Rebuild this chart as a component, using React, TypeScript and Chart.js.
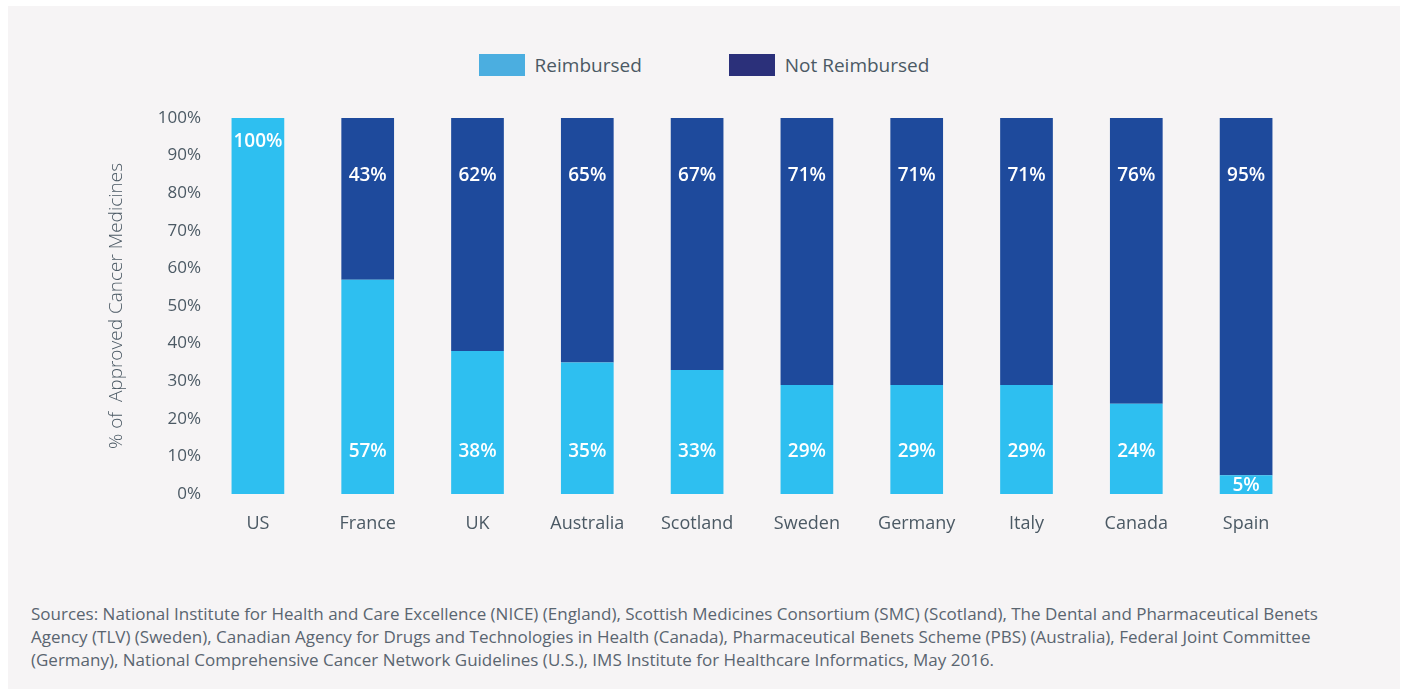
import React, { useEffect, useRef } from "react";
import { Chart, registerables } from "chart.js";

Chart.register(...registerables);

const countries = ["US", "France", "UK", "Australia", "Scotland", "Sweden", "Germany", "Italy", "Canada", "Spain"];
const reimbursed = [100, 57, 38, 35, 33, 29, 29, 29, 24, 5];
const notReimbursed = [0, 43, 62, 65, 67, 71, 71, 71, 76, 95];
const yTicks = [0, 10, 20, 30, 40, 50, 60, 70, 80, 90, 100];
const seriesNames = ["Reimbursed", "Not Reimbursed"];
const barColors = ["#2ebff0", "#1e4a9c"];
const legendColors = ["#4baee0", "#2b307a"];
const yTitle = "% of  Approved Cancer Medicines";
const sourceLines = [
  "Sources: National Institute for Health and Care Excellence (NICE) (England), Scottish Medicines Consortium (SMC) (Scotland), The Dental and Pharmaceutical Benets",
  "Agency (TLV) (Sweden), Canadian Agency for Drugs and Technologies in Health (Canada), Pharmaceutical Benets Scheme (PBS) (Australia), Federal Joint Committee",
  "(Germany), National Comprehensive Cancer Network Guidelines (U.S.), IMS Institute for Healthcare Informatics, May 2016.",
];

const FONT = "'Open Sans', sans-serif";
const TEXT = "#4b5964";

const labelPlugin = {
  id: "barLabels",
  afterDatasetsDraw(chart: any) {
    const ctx = chart.ctx;
    ctx.save();
    ctx.fillStyle = "#ffffff";
    ctx.font = `600 19px ${FONT}`;
    ctx.textAlign = "center";
    ctx.textBaseline = "middle";
    chart.data.datasets.forEach((ds: any, di: number) => {
      const meta = chart.getDatasetMeta(di);
      meta.data.forEach((bar: any, i: number) => {
        const v = ds.data[i];
        if (!v) return;
        let y: number;
        if (di === 0) {
          if (v >= 100) y = bar.y + 24;
          else if (v < 10) y = (bar.y + bar.base) / 2 + 1;
          else y = bar.base - 42;
        } else {
          y = bar.y + 58;
        }
        ctx.fillText(v + "%", bar.x, y);
      });
    });
    ctx.restore();
  },
};

export default function App() {
  const ref = useRef<HTMLCanvasElement>(null);
  useEffect(() => {
    if (!ref.current) return;
    const chart = new Chart(ref.current, {
      type: "bar",
      data: {
        labels: countries,
        datasets: [
          { label: seriesNames[0], data: reimbursed, backgroundColor: barColors[0], barPercentage: 0.96, categoryPercentage: 0.5 },
          { label: seriesNames[1], data: notReimbursed, backgroundColor: barColors[1], barPercentage: 0.96, categoryPercentage: 0.5 },
        ],
      },
      options: {
        responsive: false,
        animation: false,
        layout: { padding: { top: 112, right: 99, left: 0, bottom: 0 } },
        plugins: { legend: { display: false }, tooltip: { enabled: false } },
        scales: {
          x: {
            stacked: true,
            grid: { display: false, drawTicks: false },
            border: { display: false },
            ticks: { color: TEXT, font: { family: FONT, size: 18 }, padding: 19 },
            afterFit(s: any) { s.height = 72; },
          },
          y: {
            stacked: true,
            min: 0,
            max: 100,
            grid: { display: false, drawTicks: false },
            border: { display: false },
            afterBuildTicks(s: any) { s.ticks = yTicks.map((v) => ({ value: v })); },
            ticks: { color: TEXT, font: { family: FONT, size: 17 }, padding: 2, callback: (v: any) => v + "%" },
            title: { display: true, text: yTitle, color: TEXT, font: { family: FONT, size: 19, weight: "300" }, padding: { top: 97, bottom: 0 } },
            afterFit(s: any) { s.width = 195; },
          },
        },
      },
      plugins: [labelPlugin],
    });
    return () => chart.destroy();
  }, []);

  return (
    <div style={{ position: "absolute", top: 6, left: 8, width: 1392, height: 683, overflow: "hidden", background: "#f6f4f5", fontFamily: FONT, color: TEXT }}>
      <div style={{ position: "absolute", top: 48, left: 0, width: 1392, display: "flex", justifyContent: "center", alignItems: "center", height: 22 }}>
        {seriesNames.map((n, i) => (
          <div key={n} style={{ display: "flex", alignItems: "center", marginLeft: i ? 87 : 0 }}>
            <div style={{ width: 46, height: 22, background: legendColors[i], marginRight: 10 }} />
            <span style={{ fontSize: 19, lineHeight: "22px" }}>{n}</span>
          </div>
        ))}
      </div>
      <canvas ref={ref} width={1392} height={560} style={{ position: "absolute", top: 0, left: 0, width: 1392, height: 560 }} />
      <div style={{ position: "absolute", top: 596, left: 23, fontSize: 17, lineHeight: "23px", color: "#5a6570", whiteSpace: "nowrap" }}>
        {sourceLines.map((l) => (<div key={l}>{l}</div>))}
      </div>
    </div>
  );
}
